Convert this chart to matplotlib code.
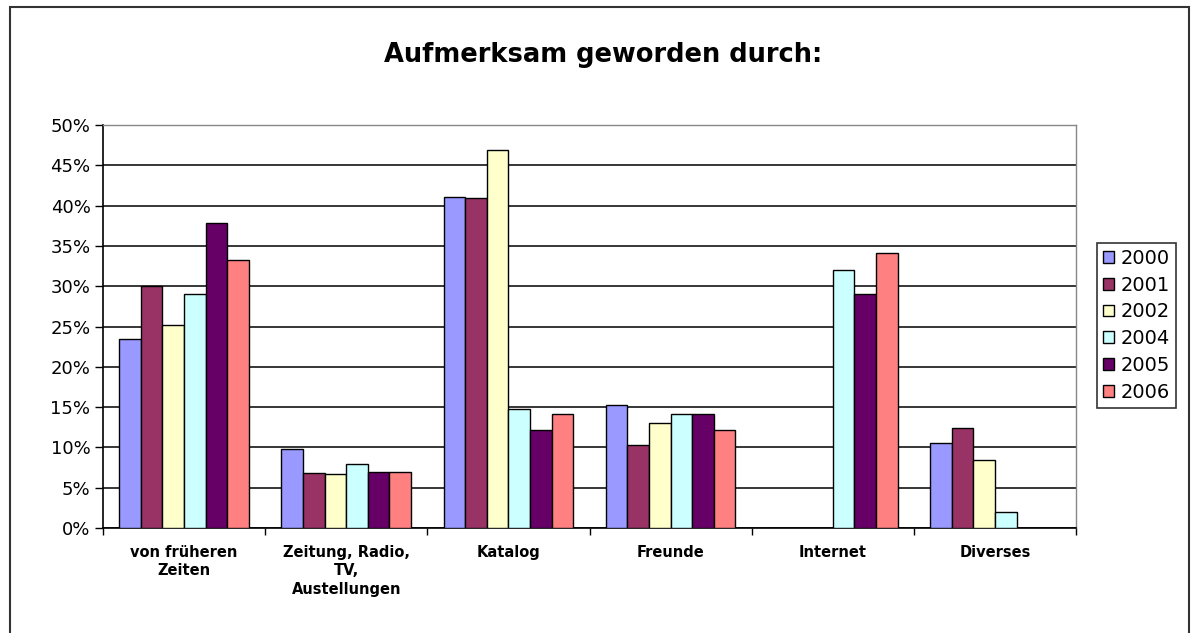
import matplotlib.pyplot as plt
import numpy as np
from matplotlib.patches import Rectangle

plt.rcParams['font.family'] = ['DejaVu Sans']

categories = ["von früheren\nZeiten", "Zeitung, Radio,\nTV,\nAustellungen", "Katalog",
              "Freunde", "Internet", "Diverses"]
years = ["2000", "2001", "2002", "2004", "2005", "2006"]

v2000 = [23.5, 9.8, 41.1, 15.3, 0, 10.6]
v2001 = [30.0, 6.8, 40.9, 10.3, 0, 12.4]
v2002 = [25.2, 6.7, 46.9, 13.0, 0, 8.4]
v2004 = [29.0, 8.0, 14.8, 14.1, 32.0, 2.0]
v2005 = [37.9, 7.0, 12.1, 14.1, 29.0, 0]
v2006 = [33.2, 7.0, 14.2, 12.1, 34.1, 0]
series = [v2000, v2001, v2002, v2004, v2005, v2006]

colors = ["#9999FF", "#993366", "#FFFFCC", "#CCFFFF", "#660066", "#FF8080"]

fig = plt.figure(figsize=(11.95, 6.33), dpi=100)
ax = fig.add_axes([103/1195, 1 - 528/633, (1076 - 103)/1195, (528 - 125)/633])

n = len(series)
bw = 0.8 / n
x = np.arange(len(categories))
for i, (vals, c, yr) in enumerate(zip(series, colors, years)):
    ax.bar(x - 0.4 + bw*(i + 0.5), vals, bw, color=c, edgecolor="black",
           linewidth=1.0, label=yr, zorder=3)

ax.set_xlim(-0.5, len(categories) - 0.5)
ax.set_ylim(0, 50)
ax.set_yticks(np.arange(0, 51, 5))
ax.set_yticklabels([f"{v}%" for v in range(0, 51, 5)], fontsize=13)
ax.yaxis.grid(True, color="black", linewidth=1.1, zorder=0)
ax.tick_params(axis="y", direction="out", length=6, width=1, pad=3)

ax.set_xticks(x)
ax.set_xticklabels(categories, fontsize=10.5, fontweight="bold", linespacing=1.3)
ax.tick_params(axis="x", length=0, pad=12)
ax.set_xticks(np.arange(-0.5, len(categories)), minor=True)
ax.tick_params(axis="x", which="minor", direction="out", length=5, width=1)

for s in ["top", "right"]:
    ax.spines[s].set_color("#888888")
    ax.spines[s].set_linewidth(1)
for s in ["left", "bottom"]:
    ax.spines[s].set_color("black")
    ax.spines[s].set_linewidth(1.2)

leg = ax.legend(loc="upper left", bbox_to_anchor=(1097/1195, 1 - 243/633),
                bbox_transform=fig.transFigure, fontsize=14, frameon=True,
                fancybox=False, edgecolor="black", handlelength=0.55,
                handleheight=0.55, handletextpad=0.35, labelspacing=0.4,
                borderpad=0.3, borderaxespad=0)
leg.get_frame().set_linewidth(1.2)

fig.text(603/1195, 1 - 55/633, "Aufmerksam geworden durch:", fontsize=18.5,
         fontweight="bold", ha="center", va="center")

fig.patches.append(Rectangle((10/1195, -0.01), (1189 - 10)/1195, 1 - 7/633 + 0.01,
                             transform=fig.transFigure, fill=False,
                             edgecolor="#333333", linewidth=1.5))

fig.savefig("out.png", dpi=100)
